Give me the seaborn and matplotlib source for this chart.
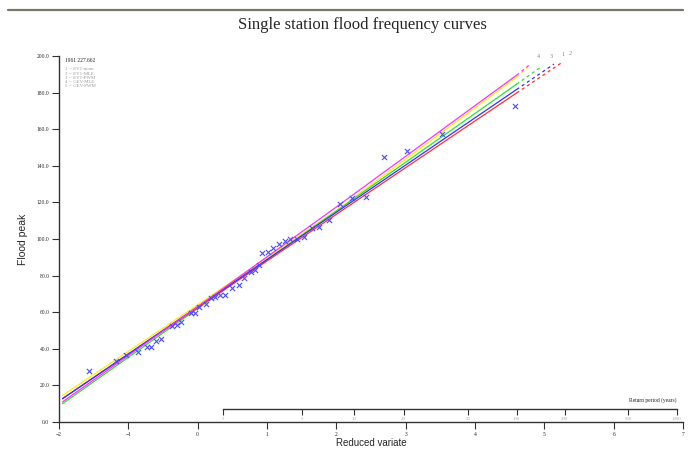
import numpy as np
import pandas as pd
import seaborn as sns
import matplotlib.pyplot as plt
from matplotlib.lines import Line2D

# observed flood peaks against Gumbel reduced variate
obs_variate = [-1.563, -1.172, -1.027, -0.854, -0.738, -0.666, -0.608, -0.535,
               -0.376, -0.304, -0.246, -0.101, -0.043, 0.014, 0.116, 0.188,
               0.246, 0.318, 0.391, 0.492, 0.593, 0.666, 0.767, 0.825, 0.883,
               0.926, 1.013, 1.085, 1.172, 1.259, 1.331, 1.433, 1.534, 1.650,
               1.751, 1.896, 2.055, 2.229, 2.431, 2.692, 3.025, 3.531, 4.573]
obs_peak = [27.9, 33.3, 36.6, 38.3, 41.0, 41.0, 44.3, 45.4,
            52.5, 53.0, 54.6, 59.6, 59.6, 62.8, 64.5, 67.8,
            68.3, 69.4, 69.4, 73.2, 74.9, 78.7, 82.0, 83.1, 85.8,
            92.3, 92.9, 95.1, 97.3, 98.9, 100.0, 100.0, 101.1, 106.0,
            106.6, 110.4, 119.1, 122.4, 123.0, 144.8, 148.1, 157.4, 172.7]

# fitted curves (solid part up to T=100, then dashed extrapolation)
curve_x = [-1.95, 0.0, 2.0, 4.6]
ev1_mom = [12.7, 63.0, 114.6, 181.7]
ev1_mle = [12.8, 62.5, 113.5, 179.8]
ev1_pwm = [10.0, 62.0, 115.3, 184.6]
gev_mle = [11.0, 63.0, 117.5, 189.5]
gev_pwm = [14.5, 64.0, 115.5, 188.5]
end_x = [5.14, 5.245, 4.97, 4.78, 4.76]
end_y = [195.6, 196.2, 194.5, 195.0, 194.0]

methods = ['EV1-mom', 'EV1-MLE', 'EV1-PWM', 'GEV-MLE', 'GEV-PWM']
colors = ['#3030ff', '#ff3030', '#30e030', '#ff30ff', '#ffee00']
return_periods = [2, 5, 10, 20, 50, 100, 200, 500, 1000]

sns.set_style('white')
plt.rcParams['font.family'] = 'Liberation Serif'

fig = plt.figure(figsize=(6.91, 4.5), dpi=100)
ax = fig.add_axes([0.0854, 0.0622, 0.903, 0.8133])

curves = [ev1_mom, ev1_mle, ev1_pwm, gev_mle, gev_pwm]
for i in [4, 2, 1, 0, 3]:
    sns.lineplot(x=curve_x, y=curves[i], color=colors[i], linewidth=0.9,
                 ax=ax, sort=False)
    sns.lineplot(x=[curve_x[-1], end_x[i]], y=[curves[i][-1], end_y[i]],
                 color=colors[i], linewidth=0.9, linestyle=(0, (2.5, 2.5)),
                 ax=ax, sort=False)
    # label 5 sits under label 4 in the original, only 1-4 show
    if i < 4:
        ax.text(end_x[i] + 0.13, end_y[i] + 5, str(i + 1), fontsize=4.5,
                color='#888888', ha='center', va='center', clip_on=False)

sns.scatterplot(x=obs_variate, y=obs_peak, marker='x', color='#4a4aff',
                s=14, linewidth=0.8, ax=ax, zorder=5)

ax.set_xlim(-2, 7)
ax.set_ylim(0, 200)
ax.set_xticks(range(-2, 8))
ax.set_yticks(np.arange(0, 201, 20))
ax.set_yticklabels([f'{v:.1f}' for v in np.arange(0, 201, 20)])
ax.tick_params(axis='both', labelsize=4, direction='out', length=5,
               width=0.8, color='#333333', pad=2, left=True, bottom=True)
for s in ['top', 'right']:
    ax.spines[s].set_visible(False)
for s in ['left', 'bottom']:
    ax.spines[s].set_color('#333333')
    ax.spines[s].set_linewidth(1.0)
ax.set_xlabel('Reduced variate', family='Liberation Sans', fontsize=7, labelpad=1)
ax.set_ylabel('Flood peak', family='Liberation Sans', fontsize=7.5, labelpad=6)

# legend text
ax.text(0.0096, 0.989, '1961 227.662', transform=ax.transAxes, fontsize=4,
        color='#222222', va='center')
leg_y = [0.9645, 0.952, 0.940, 0.929, 0.918]
for i, m in enumerate(methods):
    ax.text(0.0096, leg_y[i], f'{i + 1} -- {m}', transform=ax.transAxes,
            fontsize=3.5, color='#999999', va='center')

# return period axis
def rv(T):
    return -np.log(-np.log(1 - 1 / np.asarray(T, dtype=float)))

x0, x1 = rv(2), rv(1000)
sec = ax.inset_axes([x0, 7.1, x1 - x0, 0.5], transform=ax.transData)
sec.set_xlim(x0, x1)
sec.set_ylim(0, 1)
sec.patch.set_visible(False)
for s in ['top', 'right', 'left']:
    sec.spines[s].set_visible(False)
sec.spines['bottom'].set_color('#333333')
sec.spines['bottom'].set_linewidth(1.0)
sec.set_yticks([])
sec.set_xticks(rv(return_periods))
sec.set_xticklabels([str(t) for t in return_periods])
sec.tick_params(axis='x', labelsize=3.5, labelcolor='#aaaaaa', direction='out',
                length=4, width=0.8, color='#333333', pad=1.5, bottom=True)
ax.text(x1, 10.6, 'Return period (years)', fontsize=4, color='#222222',
        ha='right', va='bottom')

# header rule and title
fig.add_artist(Line2D([8 / 691, 683 / 691], [1 - 9.5 / 450, 1 - 9.5 / 450],
                      color='#77776a', linewidth=1.6))
fig.text(0.525, 1 - 25 / 450, 'Single station flood frequency curves',
         ha='center', va='center', fontsize=12, family='Liberation Serif')

fig.savefig('out.png', dpi=100)
